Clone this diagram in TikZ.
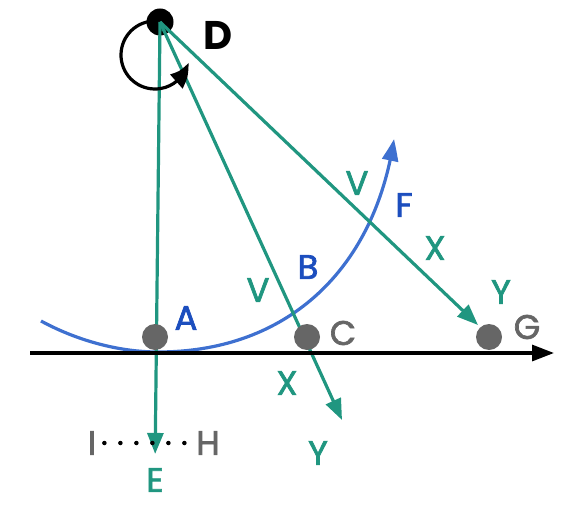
\documentclass[tikz,border=0pt]{standalone}
\usepackage{fontspec}
\setmainfont{Poppins}
\newfontfamily\lblfont{Poppins}[FakeBold=2]
\usetikzlibrary{arrows.meta,bending}
\definecolor{teal1}{RGB}{32,150,128}
\definecolor{blue1}{RGB}{62,112,208}
\definecolor{blue2}{RGB}{28,78,190}
\definecolor{gray1}{RGB}{102,102,102}
\tikzset{
  lbl/.style={font=\fontsize{34}{34}\selectfont\lblfont, inner sep=0pt},
  tl/.style={lbl, text=teal1},
  bl/.style={lbl, text=blue2},
  gl/.style={lbl, text=gray1},
  ray/.style={draw=teal1, line width=3.2pt, -{Triangle[length=21pt,width=16pt]}},
  gdot/.style={circle, fill=gray1, minimum size=26pt, inner sep=0pt},
}
\begin{document}
\begin{tikzpicture}[x=1pt,y=1pt]
\useasboundingbox (0,0) rectangle (577,-513);
% blue curve
\draw[blue1, line width=3.2pt, -{Triangle[length=22pt,width=16pt,bend]}]
  (41,-321) .. controls (76,-340) and (118,-352) .. (158,-352)
  .. controls (288,-352) and (374.5,-269) .. (394,-139);
% labels
\node[lbl, font=\fontsize{40}{40}\selectfont\bfseries] (Dl) at (218,-35) {D};
\node[tl] (E) at (155,-480) {E};
\node[gl] (I) at (92,-443) {I};
\node[gl] (H) at (208,-443) {H};
% coordinates
\coordinate (tipC) at (342,-420);
\coordinate (tipG) at (478,-325);
\coordinate (axL) at (30,-353);
\coordinate (axR) at (554,-353);
% D node
\node[circle, fill=black, minimum size=27pt, inner sep=0pt] (D) at (160,-22) {};
% rays
\draw[ray, shorten >=14pt] (D.center) -- (E.north);
\draw[ray] (D.center) -- (tipC);
\draw[ray] (D.center) -- (tipG);
% axis
\draw[black, line width=3.2pt, -{Triangle[length=22pt,width=16pt]}] (axL) -- (axR);
% dots
\node[gdot] (dA) at (155,-337) {};
\node[gdot] (dC) at (307,-337) {};
\node[gdot] (dG) at (489,-337) {};
% loop
\draw[black, line width=3.2pt, -{Triangle[length=23pt,width=18pt,bend]}]
  (155,-55) ++(100:34pt) arc[start angle=100, end angle=347, radius=34pt];
% dotted I--H
\draw[black, line width=4.5pt, line cap=round, dash pattern=on 0pt off 16pt, shorten <=8pt, shorten >=10pt] (I.east) -- (H.west);
\node[bl] (A) at (186,-318) {A};
\node[bl] (B) at (308,-267) {B};
\node[bl] (F) at (404,-205) {F};
\node[gl] (C) at (343,-333) {C};
\node[gl] (G) at (527,-327) {G};
\node[tl] (V1) at (258,-290) {V};
\node[tl] (V2) at (357,-183) {V};
\node[tl] (X1) at (287,-383) {X};
\node[tl] (X2) at (435,-248) {X};
\node[tl] (Y1) at (318,-453) {Y};
\node[tl] (Y2) at (501,-292) {Y};
\end{tikzpicture}
\end{document}
